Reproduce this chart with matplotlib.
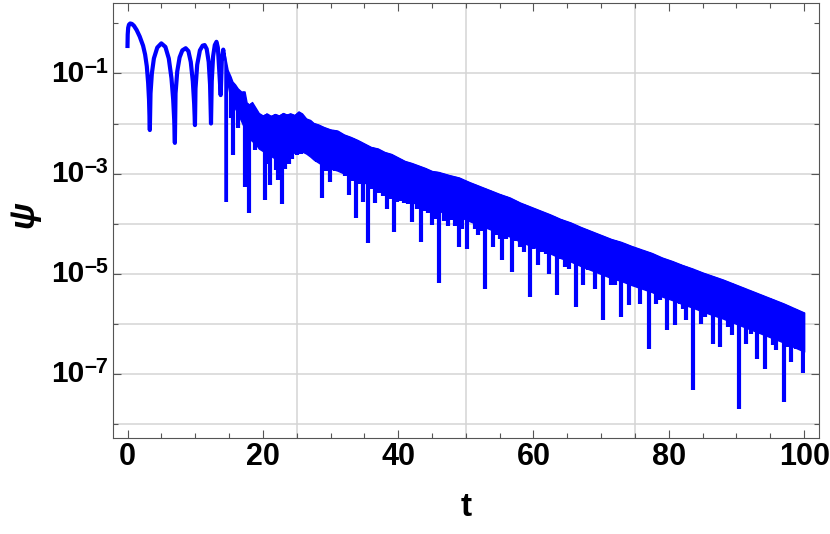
import numpy as np
import matplotlib
matplotlib.use("Agg")
import matplotlib.pyplot as plt
from matplotlib.patches import Polygon
from matplotlib.ticker import FixedLocator, NullFormatter

# ---------------- data ----------------
# smooth oscillating start (t < 14.3)
t_arch = [0.0, 0.03, 0.1, 0.22, 0.4, 0.65, 0.95, 1.35, 1.8, 2.3, 2.6, 2.85, 3.05, 3.18, 3.3,
          3.4, 3.6, 3.9, 4.4, 5.0, 5.6, 6.1, 6.5, 6.75, 6.9, 7.0,
          7.1, 7.35, 7.7, 8.1, 8.6, 9.0, 9.35, 9.65, 9.85, 9.97,
          10.05, 10.3, 10.7, 11.1, 11.4, 11.7, 12.0, 12.2, 12.34,
          12.45, 12.65, 12.9, 13.15, 13.35, 13.55, 13.77, 13.95, 14.15, 14.3]
psi_arch = [0.355, 0.6, 0.82, 0.95, 1.0, 0.98, 0.9, 0.74, 0.55, 0.36, 0.24, 0.14, 0.065, 0.03, 0.0074,
            0.04, 0.1, 0.2, 0.33, 0.40, 0.34, 0.2, 0.08, 0.03, 0.012, 0.0041,
            0.04, 0.11, 0.21, 0.29, 0.32, 0.28, 0.17, 0.07, 0.025, 0.0093,
            0.05, 0.15, 0.29, 0.36, 0.37, 0.31, 0.17, 0.06, 0.010,
            0.07, 0.22, 0.37, 0.43, 0.33, 0.12, 0.037, 0.2, 0.30, 0.2]

# dense oscillating part: upper envelope and lower solid edge (log10 of psi)
t_band = [14.3, 14.8, 15.2, 15.5, 15.9, 16.3, 16.8, 17.3, 17.6, 18.0, 18.4, 18.9, 19.4, 20.0,
          20.6, 21.2, 21.8, 22.4, 23.0, 23.5, 24.1, 24.7, 25.3, 25.8, 26.4, 27.0, 27.5, 28.2,
          29.0, 30.0, 31.0, 32.0, 33.0, 34.0, 35.0, 36.0, 37.0, 38.0, 39.0, 40.0, 41.0, 42.0,
          43.0, 44.0, 45.0, 46.0, 47.5, 49.0, 50.5, 52.0, 53.5, 55.0, 56.5, 58.0, 59.5, 61.0,
          62.5, 64.0, 65.5, 67.0, 68.5, 70.0, 71.5, 73.0, 74.5, 76.0, 77.5, 79.0, 80.5, 82.0,
          83.5, 85.0, 86.5, 88.0, 89.5, 91.0, 92.5, 94.0, 95.5, 97.0, 98.5, 100.0]
log_top = [-0.58, -0.93, -1.05, -1.16, -1.22, -1.30, -1.36, -1.36, -1.58, -1.62, -1.57, -1.68, -1.79, -1.84,
           -1.80, -1.85, -1.81, -1.84, -1.79, -1.82, -1.80, -1.83, -1.76, -1.80, -1.90, -1.93, -1.99, -2.02,
           -2.07, -2.12, -2.14, -2.22, -2.27, -2.33, -2.40, -2.47, -2.50, -2.57, -2.61, -2.68, -2.75, -2.79,
           -2.84, -2.89, -2.95, -2.97, -3.03, -3.08, -3.17, -3.25, -3.33, -3.41, -3.48, -3.58, -3.66, -3.74,
           -3.82, -3.91, -3.98, -4.07, -4.15, -4.23, -4.31, -4.37, -4.45, -4.52, -4.59, -4.68, -4.75, -4.83,
           -4.90, -4.98, -5.05, -5.12, -5.20, -5.28, -5.36, -5.44, -5.52, -5.60, -5.69, -5.78]
log_floor = [-0.65, -1.2, -1.5, -1.6, -1.7, -1.8, -1.95, -2.1, -2.2, -2.3, -2.35, -2.4, -2.5, -2.55,
             -2.6, -2.65, -2.7, -2.7, -2.65, -2.62, -2.6, -2.58, -2.56, -2.56, -2.6, -2.66, -2.72, -2.78,
             -2.85, -2.9, -2.94, -3.0, -3.05, -3.11, -3.18, -3.25, -3.28, -3.35, -3.39, -3.46, -3.53, -3.57,
             -3.62, -3.67, -3.73, -3.75, -3.81, -3.86, -3.95, -4.03, -4.11, -4.19, -4.26, -4.36, -4.44, -4.52,
             -4.6, -4.69, -4.76, -4.85, -4.93, -5.01, -5.09, -5.15, -5.23, -5.3, -5.37, -5.46, -5.53, -5.61,
             -5.68, -5.76, -5.83, -5.9, -5.98, -6.06, -6.14, -6.22, -6.3, -6.38, -6.47, -6.56]

# downward spikes: time and log10 depth
t_spike = [14.5, 15.25, 15.65, 16.3, 17.4, 18.0, 18.84, 20.3, 20.7, 21.1, 21.5, 22.0, 22.3, 22.8,
           23.3, 23.8, 24.3, 25.0, 25.7, 26.5, 27.2, 27.95, 28.7, 29.3, 29.9, 30.6, 31.5, 32.1,
           32.7, 33.3, 33.8, 34.3, 34.8, 35.6, 36.1, 36.6, 37.2, 37.7, 38.3, 38.9, 39.4, 39.9,
           40.4, 40.8, 41.5, 42.1, 42.8, 43.4, 43.9, 44.4, 45.0, 45.5, 46.1, 46.7, 47.3, 47.8,
           48.4, 49.0, 49.5, 50.1, 50.7, 51.3, 51.8, 52.3, 52.8, 53.3, 53.7, 54.0, 54.5, 55.0,
           55.4, 55.9, 56.3, 56.8, 57.2, 57.6, 58.0, 58.6, 59.0, 59.5, 60.0, 60.4, 60.7, 61.3,
           61.8, 62.3, 63.0, 63.5, 64.0, 64.3, 64.6, 65.3, 65.8, 66.3, 66.9, 67.3, 67.7, 68.1,
           68.6, 69.1, 69.7, 70.2, 70.6, 71.0, 71.4, 72.0, 72.5, 73.0, 73.6, 74.1, 74.7, 75.2,
           75.8, 76.5, 77.0, 77.5, 78.1, 78.7, 79.2, 79.8, 80.4, 80.9, 81.6, 82.1, 82.6, 83.0,
           83.6, 84.3, 84.7, 85.3, 85.9, 86.5, 87.1, 87.5, 88.1, 88.8, 89.3, 89.8, 90.4, 91.0,
           91.4, 92.1, 92.6, 93.1, 93.7, 94.2, 94.9, 95.4, 95.9, 96.5, 97.0, 97.6, 98.1, 98.8,
           99.3, 99.8]
log_spike = [-3.56, -1.89, -2.62, -2.09, -3.26, -3.79, -2.53, -3.53, -2.80, -3.23, -2.63, -2.93, -3.13, -3.61,
             -2.90, -2.80, -2.70, -2.63, -2.60, -2.53, -2.60, -2.76, -3.49, -2.95, -3.16, -2.95, -2.92, -3.05,
             -3.43, -3.15, -3.89, -3.20, -3.56, -4.39, -3.30, -3.59, -3.39, -3.45, -3.71, -3.50, -4.16, -3.56,
             -3.55, -3.59, -3.60, -3.96, -3.70, -4.36, -3.75, -3.79, -4.03, -3.90, -5.19, -3.95, -4.05, -3.93,
             -4.05, -4.46, -4.10, -4.50, -3.96, -4.10, -4.23, -4.15, -5.30, -4.10, -4.00, -4.46, -4.23, -4.30,
             -4.73, -4.30, -4.10, -4.96, -4.35, -4.26, -4.46, -4.56, -4.40, -5.46, -4.50, -4.33, -4.83, -4.56,
             -4.60, -5.00, -4.46, -5.43, -4.70, -4.60, -4.86, -4.90, -4.66, -5.66, -4.73, -5.23, -4.85, -4.93,
             -4.90, -5.30, -4.83, -5.93, -5.00, -4.96, -5.23, -5.23, -5.03, -5.87, -5.00, -5.63, -5.23, -5.20,
             -5.60, -5.16, -6.50, -5.26, -5.60, -5.53, -5.45, -6.13, -5.33, -6.03, -5.60, -5.70, -5.93, -5.53,
             -7.32, -5.63, -6.00, -5.86, -5.80, -6.40, -5.70, -6.46, -5.90, -6.06, -6.23, -5.95, -7.70, -5.93,
             -6.40, -6.20, -6.10, -6.70, -6.10, -6.90, -6.26, -6.43, -6.53, -6.30, -7.56, -6.46, -6.76, -6.50,
             -6.40, -6.98]

x_ticks = [0, 20, 40, 60, 80, 100]
x_minor = [5, 10, 15, 25, 30, 35, 45, 50, 55, 65, 70, 75, 85, 90, 95]
y_major = [1e-1, 1e-3, 1e-5, 1e-7]
y_exp = ["1", "3", "5", "7"]
y_minor = [1e0, 1e-2, 1e-4, 1e-6, 1e-8]
grid_x = [25, 50, 75]
grid_y = [1e-1, 1e-2, 1e-3, 1e-4, 1e-5, 1e-6, 1e-7, 1e-8]

# ---------------- style ----------------
FONT = ["Liberation Sans", "DejaVu Sans"]
plt.rcParams["font.family"] = FONT

BLUE = "#0000ff"
FRAME = "#555555"
GRID = "#d4d4d4"
LW = 3.0

fig = plt.figure(figsize=(8.3, 5.34), dpi=100)
ax = fig.add_axes([0.1365, 0.179, 0.8503, 0.816])
ax.set_yscale("log")
ax.set_xlim(-2.1, 102.2)
ax.set_ylim(10 ** -8.296, 10 ** 0.416)

for gx in grid_x:
    ax.axvline(gx, color=GRID, lw=1.1, zorder=0)
for gy in grid_y:
    ax.axhline(gy, color=GRID, lw=1.1, zorder=0)

# smooth start
ax.plot(t_arch, psi_arch, color=BLUE, lw=LW, solid_joinstyle="round", zorder=3)

# dense band
t_band_a = np.array(t_band)
top = 10.0 ** np.array(log_top)
floor = 10.0 ** np.array(log_floor)
ax.fill_between(t_band_a, floor, top, color=BLUE, lw=1.0, edgecolor=BLUE, zorder=3)

# spikes clipped to the region under the upper envelope
clip_verts = list(zip(t_band, top)) + [(t_band[-1] + 0.15, top[-1]),
                                       (t_band[-1] + 0.15, 1e-12), (t_band[0], 1e-12)]
clip_poly = Polygon(clip_verts, closed=True, transform=ax.transData,
                    facecolor="none", edgecolor="none")
ax.add_patch(clip_poly)
sp = ax.vlines(t_spike, 10.0 ** np.array(log_spike), 10.0, color=BLUE, lw=LW, zorder=3)
sp.set_clip_path(clip_poly)

# ticks
ax.xaxis.set_major_locator(FixedLocator(x_ticks))
ax.xaxis.set_minor_locator(FixedLocator(x_minor))
ax.set_xticklabels([str(v) for v in x_ticks])
ax.yaxis.set_major_locator(FixedLocator(y_major))
ax.yaxis.set_major_formatter(NullFormatter())
ax.yaxis.set_minor_locator(FixedLocator(y_minor))
ax.yaxis.set_minor_formatter(NullFormatter())

ax.tick_params(which="both", direction="in", top=True, right=True, color=FRAME, width=0.8)
ax.tick_params(which="major", length=6)
ax.tick_params(which="minor", length=3.5)
ax.tick_params(axis="x", which="major", pad=2.8, labelsize=22)
for lab in ax.get_xticklabels():
    lab.set_fontweight("bold")

# y tick labels: "10" with a raised exponent
for val, e in zip(y_major, y_exp):
    ax.annotate("10", xy=(0, val), xycoords=("axes fraction", "data"),
                xytext=(-20.7, -5.8), textcoords="offset points",
                ha="right", va="baseline", fontsize=21.5, fontweight="bold",
                annotation_clip=False)
    ax.annotate("\u2013" + e, xy=(0, val), xycoords=("axes fraction", "data"),
                xytext=(-20.5, 0.7), textcoords="offset points",
                ha="left", va="baseline", fontsize=15.5, fontweight="bold",
                annotation_clip=False)

for s in ax.spines.values():
    s.set_color(FRAME)
    s.set_linewidth(0.8)

ax.set_xlabel("t", fontsize=24, fontweight="bold")
ax.xaxis.set_label_coords(0.4998, -0.124)
ax.set_ylabel("ψ", fontsize=25, fontweight="bold", fontstyle="italic")
ax.yaxis.set_label_coords(-0.104, 0.513)

fig.savefig("out.png", dpi=100)
